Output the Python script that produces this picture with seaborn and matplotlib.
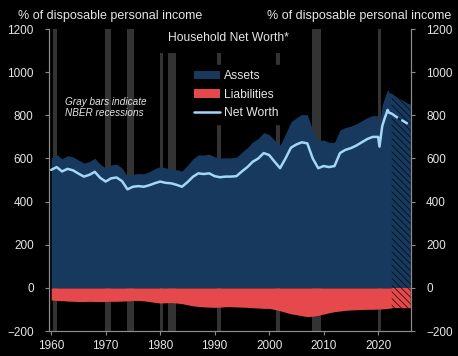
import matplotlib
matplotlib.use("Agg")
import matplotlib.pyplot as plt
import seaborn as sns
import pandas as pd

# Household balance sheet, % of disposable personal income
years = [1960, 1961, 1962, 1963, 1964, 1965, 1966, 1967, 1968, 1969,
         1970, 1971, 1972, 1973, 1974, 1975, 1976, 1977, 1978, 1979,
         1980, 1981, 1982, 1983, 1984, 1985, 1986, 1987, 1988, 1989,
         1990, 1991, 1992, 1993, 1994, 1995, 1996, 1997, 1998, 1999,
         2000, 2001, 2002, 2003, 2004, 2005, 2006, 2007, 2008, 2009,
         2010, 2011, 2012, 2013, 2014, 2015, 2016, 2017, 2018, 2019,
         2020, 2020.25, 2020.75, 2021.25, 2021.75, 2022, 2022.5]
net_worth = [547, 560, 540, 552, 545, 530, 516, 524, 538, 510,
             493, 508, 512, 495, 457, 469, 472, 469, 476, 485,
             493, 487, 485, 478, 469, 490, 515, 531, 528, 531,
             518, 513, 516, 516, 518, 540, 560, 585, 600, 625,
             616, 585, 555, 600, 650, 665, 675, 670, 600, 555,
             565, 560, 565, 625, 640, 648, 660, 675, 690, 700,
             700, 655, 750, 790, 825, 812, 808]
liabilities = [-56, -58, -59, -61, -62, -63, -63, -62, -63, -63,
               -63, -62, -62, -61, -60, -58, -58, -60, -63, -67,
               -70, -69, -68, -70, -73, -78, -83, -86, -88, -89,
               -90, -89, -87, -87, -88, -89, -90, -92, -93, -95,
               -95, -100, -106, -113, -120, -124, -129, -133, -131, -127,
               -121, -115, -110, -107, -104, -102, -101, -100, -99, -99,
               -98, -98, -97, -96, -95, -94, -93]

# Projection (hatched / dashed)
years_fc = [2022.5, 2023.5, 2024.5, 2025.5, 2026]
net_worth_fc = [808, 790, 775, 760, 755]
liabilities_fc = [-93, -93, -94, -94, -94]

# NBER recessions (start, end)
recessions = [(1960.3, 1961.1), (1969.9, 1970.9), (1973.9, 1975.2),
              (1980.0, 1980.5), (1981.5, 1982.9), (1990.5, 1991.2),
              (2001.2, 2001.9), (2007.9, 2009.5), (2020.0, 2020.5)]

df = pd.DataFrame({"year": years, "net_worth": net_worth, "liabilities": liabilities})
df["assets"] = df["net_worth"] - df["liabilities"]
fc = pd.DataFrame({"year": years_fc, "net_worth": net_worth_fc, "liabilities": liabilities_fc})
fc["assets"] = fc["net_worth"] - fc["liabilities"]

sns.set_style("dark", {"axes.facecolor": "black", "figure.facecolor": "black"})
plt.rcParams["font.family"] = ["Liberation Sans", "DejaVu Sans"]
plt.rcParams["hatch.linewidth"] = 0.6

navy = "#16395d"
red = "#e5494c"
light = "#a4d6f7"
txt = "#e6e6e6"
spine = "#8c8c8c"

fig = plt.figure(figsize=(4.58, 3.56), dpi=100)
ax = fig.add_axes([0.107, 0.07, 0.79, 0.8485])

for s, e in recessions:
    ax.axvspan(s, e, color="#333333", lw=0, zorder=0)

ax.fill_between(df["year"], 0, df["assets"], color=navy, lw=0, zorder=1, label="Assets")
ax.fill_between(df["year"], 0, df["liabilities"], color=red, lw=0, zorder=1, label="Liabilities")
ax.fill_between(fc["year"], 0, fc["assets"], facecolor=navy, edgecolor="#050d18",
                hatch="\\\\\\\\\\", lw=0, zorder=1)
ax.fill_between(fc["year"], 0, fc["liabilities"], facecolor=red, edgecolor="#3a0a0a",
                hatch="\\\\\\\\\\", lw=0, zorder=1)

sns.lineplot(data=df, x="year", y="net_worth", color=light, lw=1.8, ax=ax, zorder=3, label="Net Worth")
sns.lineplot(data=fc, x="year", y="net_worth", color=light, lw=1.8, ax=ax, zorder=3,
             dashes=False, linestyle=(0, (3, 1.6)))

ax.set_xlim(1959.6, 2026)
ax.set_ylim(-200, 1200)
ax.set_xticks([1960, 1970, 1980, 1990, 2000, 2010, 2020])
ax.set_yticks(range(-200, 1201, 200))
ax.set_xlabel("")
ax.set_ylabel("")
ax.tick_params(axis="both", colors=txt, labelsize=8.5, length=3, width=0.8, color=spine,
               left=True, bottom=True)
ax.tick_params(axis="y", pad=8)

ax2 = ax.twinx()
ax2.set_ylim(-200, 1200)
ax2.set_yticks(range(-200, 1201, 200))
ax2.tick_params(axis="y", colors=txt, labelsize=8.5, length=3, width=0.8, color=spine,
                right=True, pad=8)

for a in (ax, ax2):
    for side in ("left", "right", "bottom"):
        a.spines[side].set_visible(True)
        a.spines[side].set_color(spine)
        a.spines[side].set_linewidth(0.8)
    a.spines["top"].set_visible(False)

fig.text(0.04, 0.955, "% of disposable personal income", color=txt, fontsize=9, va="center")
fig.text(0.985, 0.955, "% of disposable personal income", color=txt, fontsize=9,
         va="center", ha="right")

ax.text(1992.6, 1160, "Household Net Worth*", color=txt, fontsize=8.7, ha="center", va="center",
        zorder=4, bbox=dict(facecolor="black", edgecolor="none", pad=7))
ax.text(1962.6, 838, "Gray bars indicate\nNBER recessions", color=txt, fontsize=7.2,
        style="italic", va="center", linespacing=1.1, zorder=4)

handles, labels = ax.get_legend_handles_labels()
leg = ax.legend(handles, labels, loc="upper left", bbox_to_anchor=(0.37, 0.9), frameon=True,
                facecolor="black", edgecolor="black", framealpha=1, fontsize=8.7,
                handlelength=2.2, handletextpad=0.3, labelspacing=0.55, borderpad=0.4)
for t in leg.get_texts():
    t.set_color(txt)

fig.savefig("out.png", dpi=100, facecolor="black")
